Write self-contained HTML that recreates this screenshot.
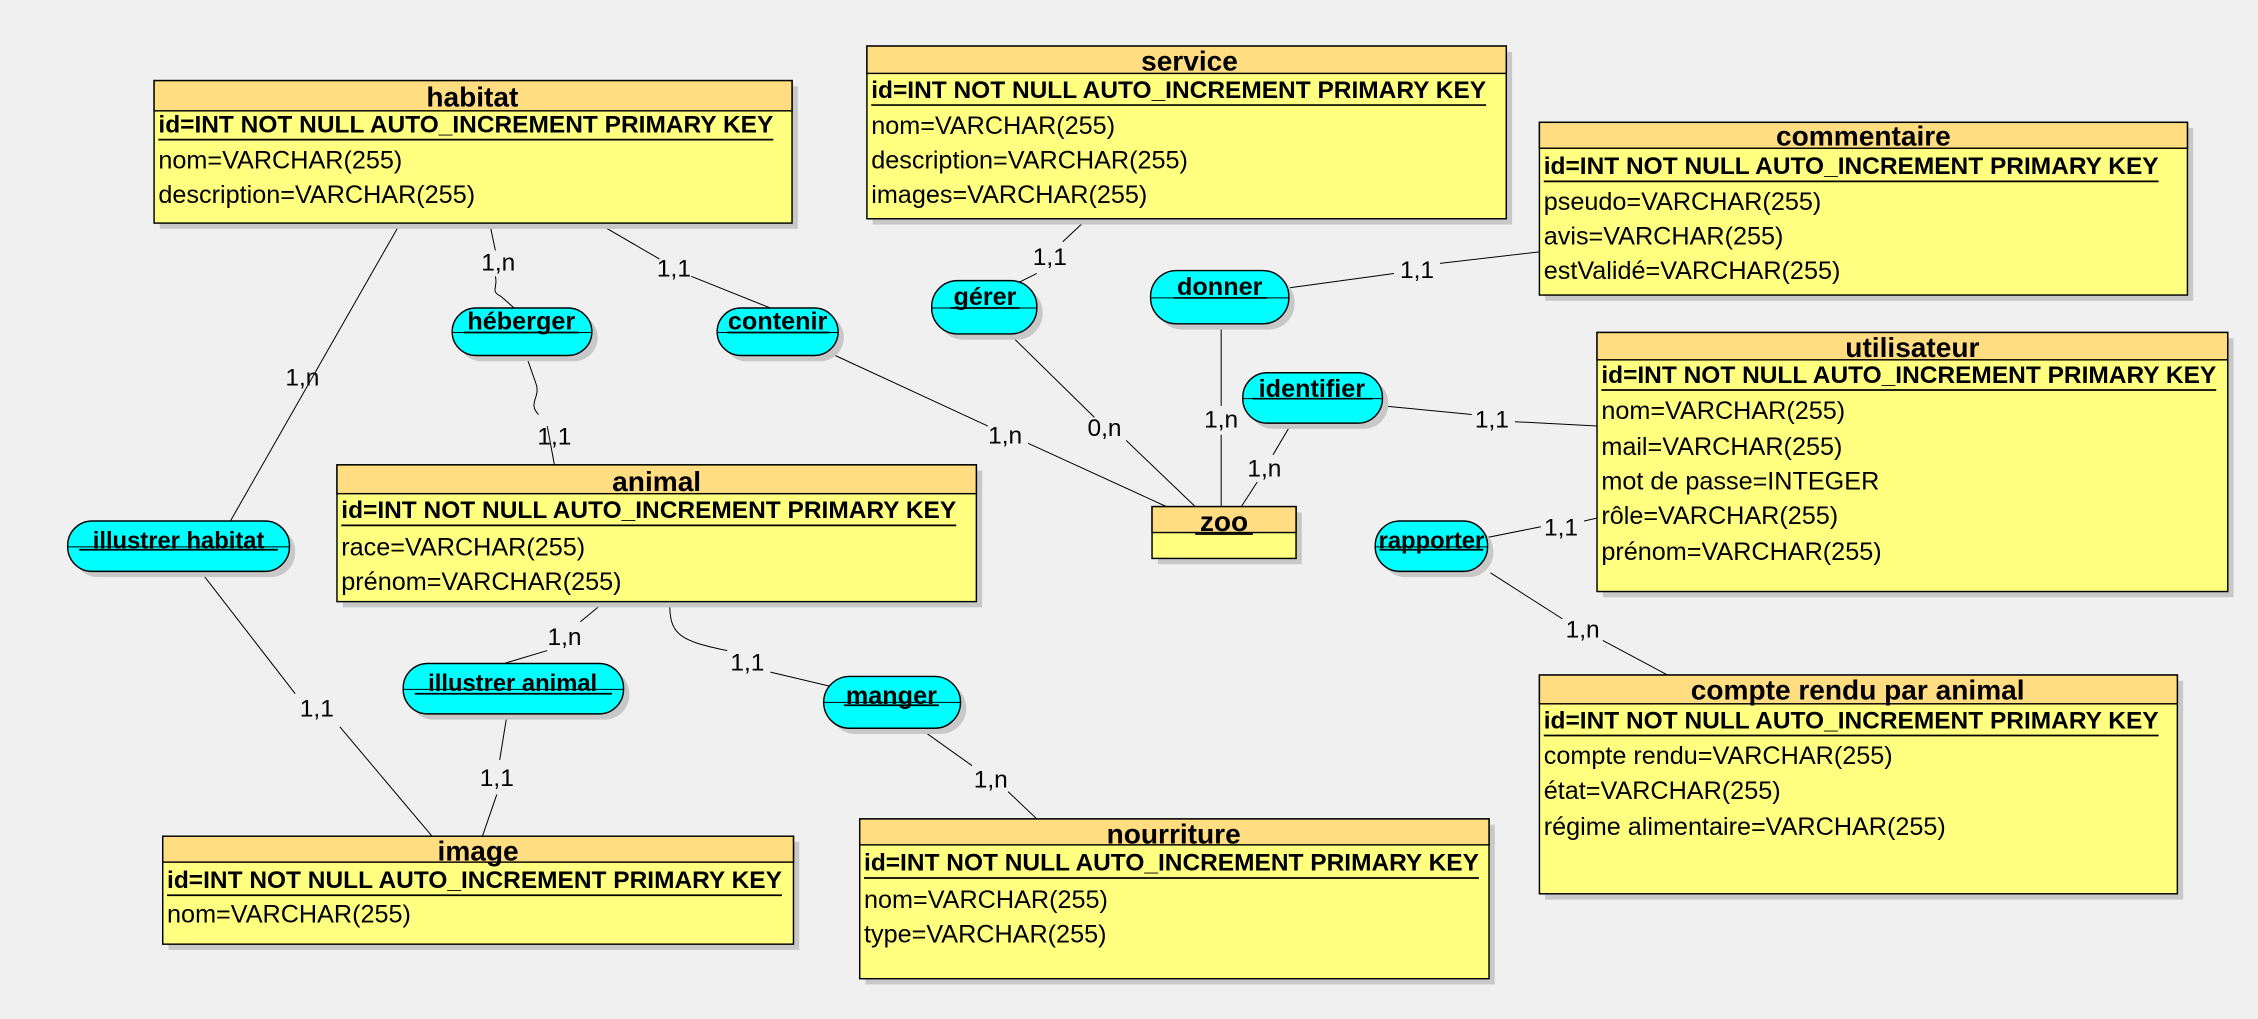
<!DOCTYPE html>
<html><head><meta charset="utf-8"><style>
html,body{margin:0;padding:0;background:#f0f0f0;}
svg{display:block;}
text{font-family:"Liberation Sans",sans-serif;fill:#000;}
.t{font-weight:bold;font-size:19.5px;text-anchor:middle;}
.k{font-weight:bold;font-size:16.5px;}
.r{font-size:17.5px;}
.a{font-weight:bold;font-size:17.5px;text-anchor:middle;}
.c{font-size:17px;text-anchor:middle;}
.e{fill:#ffff80;stroke:#000;stroke-width:1;}
.h{fill:#ffdd80;stroke:#000;stroke-width:1;}
.s{fill:#c8c8c8;}
.p{fill:#00ffff;stroke:#000;stroke-width:1;}
.l{stroke:#000;stroke-width:0.7;fill:none;}
.u{stroke:#000;stroke-width:1.2;}
</style></head><body>
<svg width="2258" height="1019" viewBox="0 0 1568 708" preserveAspectRatio="none" xmlns="http://www.w3.org/2000/svg">
<rect width="1568" height="708" fill="#f0f0f0"/>
<g class="l">
<path d="M278 155 L160 362"/>
<path d="M340 155 L344 174 M344 192 C346 200 340 202 348 206 L357 214"/>
<path d="M365 246 L372 266 C376 276 366 280 374 288 M380 296 L385 323"/>
<path d="M415 155 L458 180 M480 192 L535 214"/>
<path d="M580 247 L686 296 M714 308 L810 352"/>
<path d="M755 152 L738 168 M720 190 L700 200"/>
<path d="M705 236 L760 290 M782 306 L830 352"/>
<path d="M1069 175 L1000 183 M968 190 L895 200"/>
<path d="M848 226 L848 282 M848 302 L848 352"/>
<path d="M897 294 L884 316 M873 335 L862 352"/>
<path d="M960 282 L1022 288 M1052 293 L1109 296"/>
<path d="M1030 374 L1070 366 M1100 362 L1109 360"/>
<path d="M1035 398 L1085 430 M1113 445 L1158 469"/>
<path d="M140 398 L205 482 M236 505 L300 581"/>
<path d="M420 418 L403 432 M380 452 L350 461"/>
<path d="M352 497 L347 528 M345 552 L335 581"/>
<path d="M465 418 C465 440 470 445 505 452 M535 467 L590 480"/>
<path d="M640 507 L675 532 M700 550 L720 569"/>
</g>
<g>
<text class="c" x="346" y="188">1,n</text>
<text class="c" x="385" y="309">1,1</text>
<text class="c" x="468" y="192">1,1</text>
<text class="c" x="210" y="268">1,n</text>
<text class="c" x="698" y="308">1,n</text>
<text class="c" x="729" y="184">1,1</text>
<text class="c" x="767" y="303">0,n</text>
<text class="c" x="984" y="193">1,1</text>
<text class="c" x="848" y="297">1,n</text>
<text class="c" x="878" y="331">1,n</text>
<text class="c" x="1036" y="297">1,1</text>
<text class="c" x="1084" y="372">1,1</text>
<text class="c" x="1099" y="443">1,n</text>
<text class="c" x="220" y="498">1,1</text>
<text class="c" x="392" y="448">1,n</text>
<text class="c" x="345" y="546">1,1</text>
<text class="c" x="519" y="466">1,1</text>
<text class="c" x="688" y="547">1,n</text>
</g>
<!-- habitat -->
<rect class="s" x="111" y="60" width="443" height="99"/>
<rect class="e" x="107" y="56" width="443" height="99"/>
<rect class="h" x="107" y="56" width="443" height="21"/>
<text class="t" x="328" y="74">habitat</text>
<text class="k" x="110" y="92" textLength="427" lengthAdjust="spacingAndGlyphs">id=INT NOT NULL AUTO_INCREMENT PRIMARY KEY</text>
<line class="u" x1="110" y1="97" x2="537" y2="97"/>
<text class="r" x="110" y="117">nom=VARCHAR(255)</text>
<text class="r" x="110" y="141">description=VARCHAR(255)</text>
<!-- service -->
<rect class="s" x="606" y="36" width="444" height="120"/>
<rect class="e" x="602" y="32" width="444" height="120"/>
<rect class="h" x="602" y="32" width="444" height="19"/>
<text class="t" x="826" y="49">service</text>
<text class="k" x="605" y="68" textLength="427" lengthAdjust="spacingAndGlyphs">id=INT NOT NULL AUTO_INCREMENT PRIMARY KEY</text>
<line class="u" x1="605" y1="73" x2="1032" y2="73"/>
<text class="r" x="605" y="93">nom=VARCHAR(255)</text>
<text class="r" x="605" y="117">description=VARCHAR(255)</text>
<text class="r" x="605" y="141">images=VARCHAR(255)</text>
<!-- commentaire -->
<rect class="s" x="1073" y="89" width="450" height="120"/>
<rect class="e" x="1069" y="85" width="450" height="120"/>
<rect class="h" x="1069" y="85" width="450" height="18"/>
<text class="t" x="1294" y="101">commentaire</text>
<text class="k" x="1072" y="121" textLength="427" lengthAdjust="spacingAndGlyphs">id=INT NOT NULL AUTO_INCREMENT PRIMARY KEY</text>
<line class="u" x1="1072" y1="126" x2="1499" y2="126"/>
<text class="r" x="1072" y="146">pseudo=VARCHAR(255)</text>
<text class="r" x="1072" y="170">avis=VARCHAR(255)</text>
<text class="r" x="1072" y="194">estValidé=VARCHAR(255)</text>
<!-- utilisateur -->
<rect class="s" x="1113" y="235" width="438" height="180"/>
<rect class="e" x="1109" y="231" width="438" height="180"/>
<rect class="h" x="1109" y="231" width="438" height="19"/>
<text class="t" x="1328" y="248">utilisateur</text>
<text class="k" x="1112" y="266" textLength="427" lengthAdjust="spacingAndGlyphs">id=INT NOT NULL AUTO_INCREMENT PRIMARY KEY</text>
<line class="u" x1="1112" y1="271" x2="1539" y2="271"/>
<text class="r" x="1112" y="291">nom=VARCHAR(255)</text>
<text class="r" x="1112" y="316">mail=VARCHAR(255)</text>
<text class="r" x="1112" y="340">mot de passe=INTEGER</text>
<text class="r" x="1112" y="364">rôle=VARCHAR(255)</text>
<text class="r" x="1112" y="389">prénom=VARCHAR(255)</text>
<!-- animal -->
<rect class="s" x="238" y="327" width="444" height="95"/>
<rect class="e" x="234" y="323" width="444" height="95"/>
<rect class="h" x="234" y="323" width="444" height="20"/>
<text class="t" x="456" y="341">animal</text>
<text class="k" x="237" y="360" textLength="427" lengthAdjust="spacingAndGlyphs">id=INT NOT NULL AUTO_INCREMENT PRIMARY KEY</text>
<line class="u" x1="237" y1="365" x2="664" y2="365"/>
<text class="r" x="237" y="386">race=VARCHAR(255)</text>
<text class="r" x="237" y="410">prénom=VARCHAR(255)</text>
<!-- zoo -->
<rect class="s" x="804" y="356" width="100" height="36"/>
<rect class="e" x="800" y="352" width="100" height="36"/>
<rect class="h" x="800" y="352" width="100" height="18"/>
<text class="t" x="850" y="369">zoo</text>
<line class="u" x1="830" y1="371" x2="870" y2="371"/>
<!-- image -->
<rect class="s" x="117" y="585" width="438" height="75"/>
<rect class="e" x="113" y="581" width="438" height="75"/>
<rect class="h" x="113" y="581" width="438" height="18"/>
<text class="t" x="332" y="598">image</text>
<text class="k" x="116" y="617" textLength="427" lengthAdjust="spacingAndGlyphs">id=INT NOT NULL AUTO_INCREMENT PRIMARY KEY</text>
<line class="u" x1="116" y1="622" x2="543" y2="622"/>
<text class="r" x="116" y="641">nom=VARCHAR(255)</text>
<!-- nourriture -->
<rect class="s" x="601" y="573" width="437" height="111"/>
<rect class="e" x="597" y="569" width="437" height="111"/>
<rect class="h" x="597" y="569" width="437" height="18"/>
<text class="t" x="815" y="586">nourriture</text>
<text class="k" x="600" y="605" textLength="427" lengthAdjust="spacingAndGlyphs">id=INT NOT NULL AUTO_INCREMENT PRIMARY KEY</text>
<line class="u" x1="600" y1="610" x2="1027" y2="610"/>
<text class="r" x="600" y="631">nom=VARCHAR(255)</text>
<text class="r" x="600" y="655">type=VARCHAR(255)</text>
<!-- compte rendu -->
<rect class="s" x="1073" y="473" width="443" height="152"/>
<rect class="e" x="1069" y="469" width="443" height="152"/>
<rect class="h" x="1069" y="469" width="443" height="20"/>
<text class="t" x="1290" y="486">compte rendu par animal</text>
<text class="k" x="1072" y="506" textLength="427" lengthAdjust="spacingAndGlyphs">id=INT NOT NULL AUTO_INCREMENT PRIMARY KEY</text>
<line class="u" x1="1072" y1="511" x2="1499" y2="511"/>
<text class="r" x="1072" y="531">compte rendu=VARCHAR(255)</text>
<text class="r" x="1072" y="555">état=VARCHAR(255)</text>
<text class="r" x="1072" y="580">régime alimentaire=VARCHAR(255)</text>
<!-- associations -->
<g>
<rect class="s" x="318" y="218" width="97" height="33" rx="16.5"/>
<rect class="p" x="314" y="214" width="97" height="33" rx="16.5"/>
<line class="l" x1="314" y1="231" x2="411" y2="231"/>
<text class="a" x="362" y="229">héberger</text>
<line class="u" x1="322" y1="231" x2="402" y2="231"/>

<rect class="s" x="502" y="218" width="84" height="33" rx="16.5"/>
<rect class="p" x="498" y="214" width="84" height="33" rx="16.5"/>
<line class="l" x1="498" y1="231" x2="582" y2="231"/>
<text class="a" x="540" y="229">contenir</text>
<line class="u" x1="505" y1="231" x2="576" y2="231"/>

<rect class="s" x="651" y="199" width="73" height="37" rx="18"/>
<rect class="p" x="647" y="195" width="73" height="37" rx="18"/>
<line class="l" x1="647" y1="214" x2="720" y2="214"/>
<text class="a" x="684" y="212">gérer</text>
<line class="u" x1="660" y1="214" x2="708" y2="214"/>

<rect class="s" x="803" y="192" width="96" height="37" rx="18"/>
<rect class="p" x="799" y="188" width="96" height="37" rx="18"/>
<line class="l" x1="799" y1="207" x2="895" y2="207"/>
<text class="a" x="847" y="205">donner</text>
<line class="u" x1="815" y1="207" x2="880" y2="207"/>

<rect class="s" x="867" y="263" width="97" height="35" rx="17"/>
<rect class="p" x="863" y="259" width="97" height="35" rx="17"/>
<line class="l" x1="863" y1="277" x2="960" y2="277"/>
<text class="a" x="911" y="276">identifier</text>
<line class="u" x1="870" y1="277" x2="953" y2="277"/>

<rect class="s" x="959" y="366" width="78" height="35" rx="17"/>
<rect class="p" x="955" y="362" width="78" height="35" rx="17"/>
<line class="l" x1="955" y1="380" x2="1033" y2="380"/>
<text class="a" x="994" y="381" style="font-size:16.5px">rapporter</text>
<line class="u" x1="958" y1="382" x2="1030" y2="382"/>

<rect class="s" x="51" y="366" width="154" height="35" rx="17"/>
<rect class="p" x="47" y="362" width="154" height="35" rx="17"/>
<line class="l" x1="47" y1="380" x2="201" y2="380"/>
<text class="a" x="124" y="381" style="font-size:16.5px">illustrer habitat</text>
<line class="u" x1="55" y1="382" x2="193" y2="382"/>

<rect class="s" x="284" y="465" width="153" height="35" rx="17"/>
<rect class="p" x="280" y="461" width="153" height="35" rx="17"/>
<line class="l" x1="280" y1="479" x2="433" y2="479"/>
<text class="a" x="356" y="480" style="font-size:16.5px">illustrer animal</text>
<line class="u" x1="288" y1="482" x2="425" y2="482"/>

<rect class="s" x="576" y="474" width="95" height="36" rx="18"/>
<rect class="p" x="572" y="470" width="95" height="36" rx="18"/>
<line class="l" x1="572" y1="488" x2="667" y2="488"/>
<text class="a" x="619" y="489">manger</text>
<line class="u" x1="586" y1="490" x2="652" y2="490"/>
</g>
</svg>
</body></html>
